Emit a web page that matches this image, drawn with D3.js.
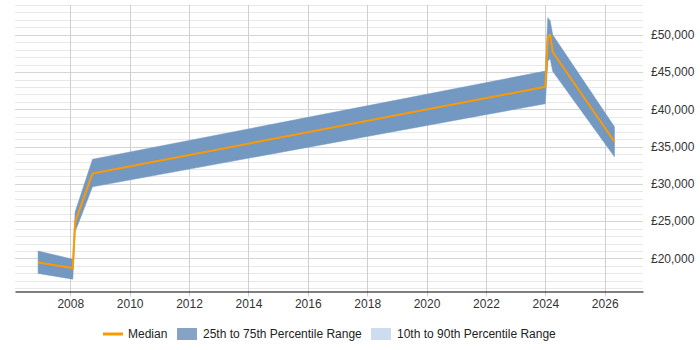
<!DOCTYPE html>
<html>
<head>
<meta charset="utf-8">
<script src="https://cdn.jsdelivr.net/npm/d3@7"></script>
<style>
  body { margin: 0; background: #fff; }
  svg text { font-family: "Liberation Sans", Arial, sans-serif; }
</style>
</head>
<body>
<svg id="chart" width="700" height="350"></svg>
<script>
// ---- data ----
const dates   = ["2006-12-01", "2008-02-01", "2008-03-01", "2008-10-01", "2024-01-01", "2024-02-01", "2024-03-01", "2024-04-01", "2026-05-01"];
const median  = [19460, 18700, 24910, 31400, 43030, 49700, 50000, 47700, 35650];
const p25     = [17990, 17220, 23570, 29600, 40750, 46500, 46800, 45100, 33630];
const p75     = [20980, 19900, 26250, 33300, 45130, 52300, 51900, 50000, 37660];
const xDomain = ["2006-02-20", "2027-04-17"];
const yDomain = [15560, 54000];
const yearTicks = [2008, 2010, 2012, 2014, 2016, 2018, 2020, 2022, 2024, 2026];
const yTicks = [20000, 25000, 30000, 35000, 40000, 45000, 50000];
const legendItems = ["Median", "25th to 75th Percentile Range", "10th to 90th Percentile Range"];

// ---- layout ----
const pLeft = 15, pRight = 643, pTop = 5, pBottom = 291.5;
const parse = d3.timeParse("%Y-%m-%d");
const rows = dates.map((d, i) => ({ date: parse(d), med: median[i], lo: p25[i], hi: p75[i] }));

const svg = d3.select("#chart");
const x = d3.scaleTime().domain(xDomain.map(parse)).range([pLeft, pRight]);
const y = d3.scaleLinear().domain(yDomain).range([pBottom, pTop]);

// horizontal grid (every 1000)
const minor = d3.range(16000, 54001, 1000);
svg.append("g").selectAll("line").data(minor).join("line")
  .attr("x1", pLeft).attr("x2", pRight)
  .attr("y1", d => Math.round(y(d)) + 0.5).attr("y2", d => Math.round(y(d)) + 0.5)
  .attr("stroke", d => d % 5000 === 0 ? "#d5d5d5" : "#e8e8e8")
  .attr("stroke-width", 1);

// vertical grid at year ticks
const yearDates = yearTicks.map(yr => new Date(yr, 0, 1));
svg.append("g").selectAll("line").data(yearDates).join("line")
  .attr("x1", d => Math.round(x(d)) + 0.5).attr("x2", d => Math.round(x(d)) + 0.5)
  .attr("y1", pTop).attr("y2", pBottom + 5)
  .attr("stroke", "#cfcfcf").attr("stroke-width", 1);

// band 25-75
const area = d3.area().x(d => x(d.date)).y0(d => y(d.lo)).y1(d => y(d.hi));
svg.append("path").datum(rows).attr("d", area)
  .attr("fill", "#7398c1").attr("stroke", "#7398c1").attr("stroke-width", 0.5);

// median
const line = d3.line().x(d => x(d.date)).y(d => y(d.med));
svg.append("path").datum(rows).attr("d", line)
  .attr("fill", "none").attr("stroke", "#ff9900").attr("stroke-width", 2)
  .attr("stroke-linejoin", "round");

// bottom axis
const xAxis = d3.axisBottom(x).tickValues(yearDates).tickFormat(d3.timeFormat("%Y")).tickSize(0).tickPadding(8);
const gx = svg.append("g").attr("transform", `translate(0,${pBottom})`).call(xAxis);
gx.select(".domain").attr("stroke", "#000").attr("stroke-width", 1.2);
gx.selectAll("text").attr("font-size", 12).attr("fill", "#333")
  .attr("font-family", "'Liberation Sans', Arial, sans-serif");

// right axis labels
const fmt = v => "£" + d3.format(",")(v);
const yAxis = d3.axisRight(y).tickValues(yTicks).tickFormat(fmt).tickSize(0).tickPadding(8);
const gy = svg.append("g").attr("transform", `translate(${pRight},0)`).call(yAxis);
gy.select(".domain").remove();
gy.selectAll("text").attr("font-size", 12).attr("fill", "#333")
  .attr("font-family", "'Liberation Sans', Arial, sans-serif");

// legend
const lg = svg.append("g").attr("font-size", 12).attr("fill", "#222");
const ly = 334;
lg.append("line").attr("x1", 103).attr("x2", 123).attr("y1", ly).attr("y2", ly)
  .attr("stroke", "#ff9900").attr("stroke-width", 3);
lg.append("text").attr("x", 128).attr("y", ly + 4).text(legendItems[0]);
lg.append("rect").attr("x", 177).attr("y", ly - 6).attr("width", 20).attr("height", 12).attr("fill", "#86a3c6");
lg.append("text").attr("x", 203).attr("y", ly + 4).text(legendItems[1]);
lg.append("rect").attr("x", 371).attr("y", ly - 6).attr("width", 20).attr("height", 12).attr("fill", "#cddcee");
lg.append("text").attr("x", 397).attr("y", ly + 4).text(legendItems[2]);
</script>
</body>
</html>
